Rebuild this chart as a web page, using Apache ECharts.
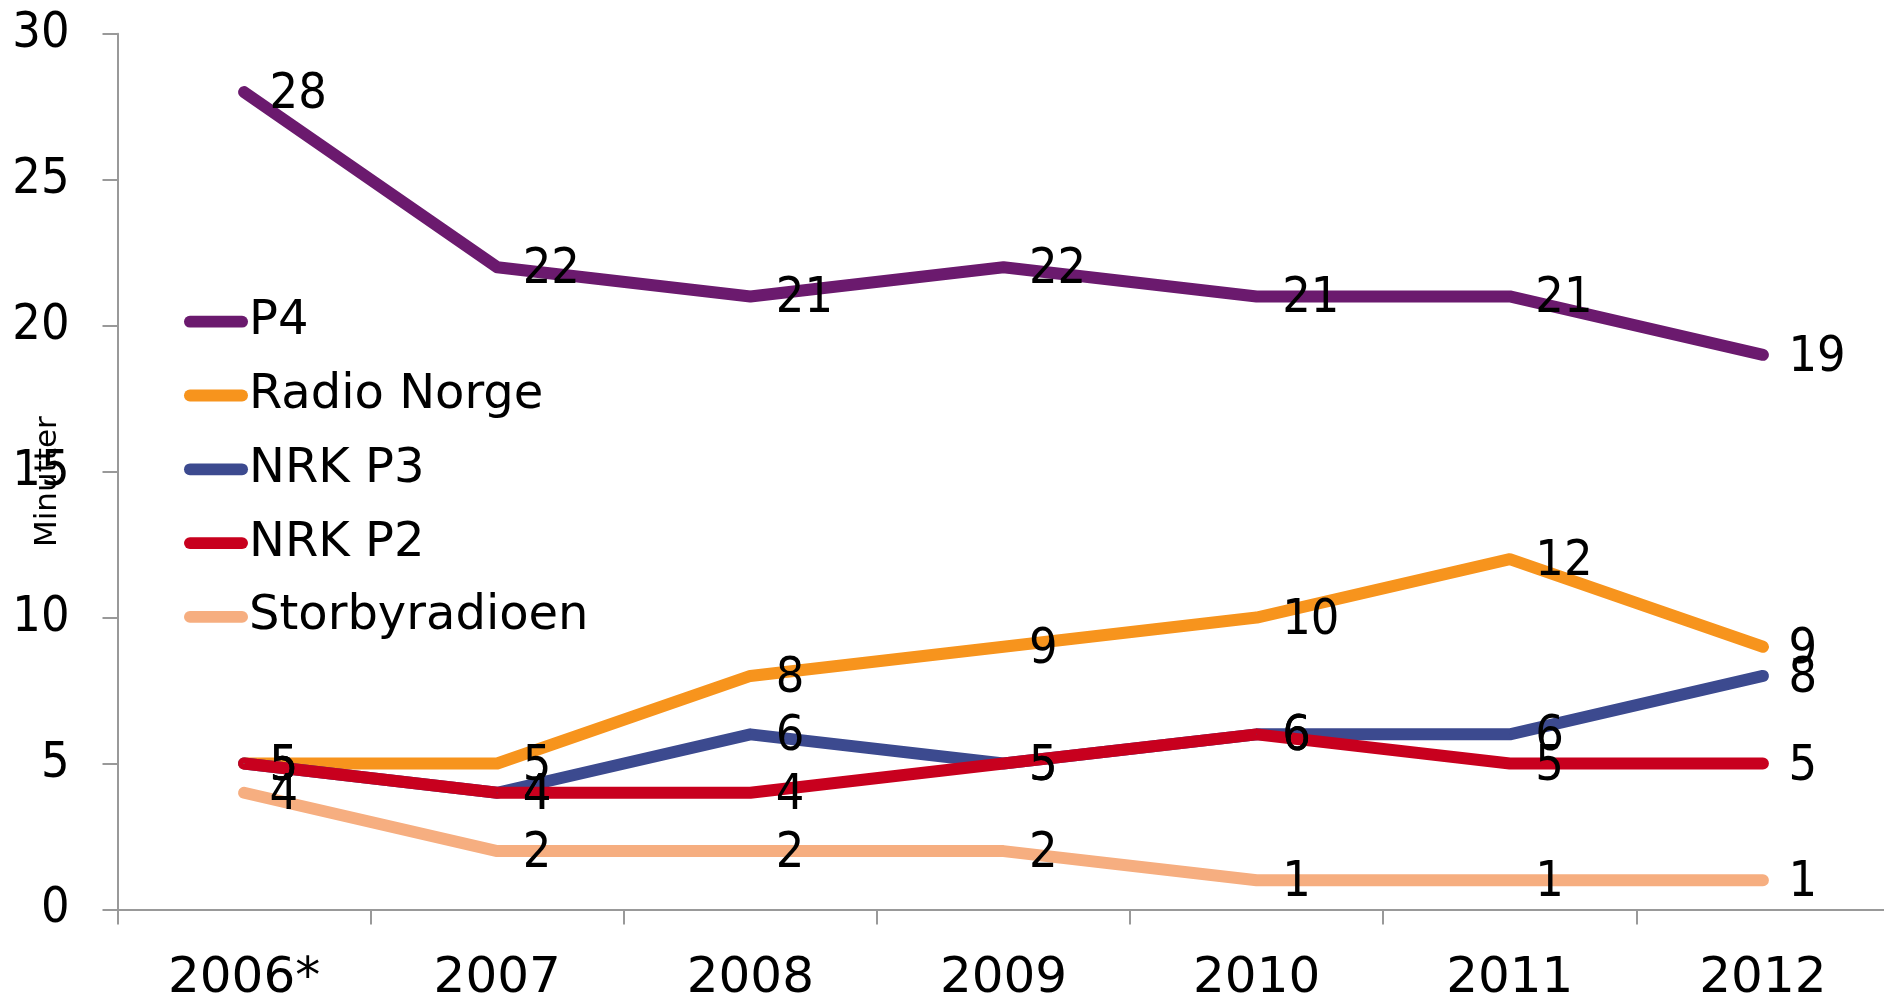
<!DOCTYPE html>
<html>
<head>
<meta charset="utf-8">
<script src="https://cdn.jsdelivr.net/npm/echarts@6/dist/echarts.min.js"></script>
<style>
html,body{margin:0;padding:0;background:#fff;}
#chart{width:1884px;height:996px;}
</style>
</head>
<body>
<div id="chart"></div>
<script>
const categories = ['2006*', '2007', '2008', '2009', '2010', '2011', '2012'];
const p4 = [28, 22, 21, 22, 21, 21, 19];
const radioNorge = [5, 5, 8, 9, 10, 12, 9];
const nrkP3 = [5, 4, 6, 5, 6, 6, 8];
const nrkP2 = [5, 4, 4, 5, 6, 5, 5];
const storbyradioen = [4, 2, 2, 2, 1, 1, 1];
const seriesNames = ['P4', 'Radio Norge', 'NRK P3', 'NRK P2', 'Storbyradioen'];
const seriesData = [p4, radioNorge, nrkP3, nrkP2, storbyradioen];
const colors = ['#6B1A6E', '#F7941D', '#3C4A8F', '#C8001E', '#F6AE80'];
const yTicks = [0, 5, 10, 15, 20, 25, 30];

const chart = echarts.init(document.getElementById('chart'), null, {renderer: 'canvas'});

const series = seriesNames.map((name, i) => ({
  name: name,
  type: 'line',
  data: seriesData[i],
  symbol: 'circle',
  symbolSize: 1,
  showSymbol: true,
  color: colors[i],
  itemStyle: {color: colors[i]},
  lineStyle: {width: 12, color: colors[i], cap: 'round', join: 'round'},
  label: {
    show: true,
    position: 'right',
    distance: 25,
    offset: [0, 3],
    color: '#000',
    fontFamily: 'DejaVu Sans Condensed',
    fontSize: 50
  },
  emphasis: {disabled: true},
  animation: false
}));

chart.setOption({
  backgroundColor: '#fff',
  animation: false,
  grid: {left: 117.5, top: 33.7, width: 1772, height: 875.8, containLabel: false, outerBoundsMode: 'none'},
  legend: {
    orient: 'vertical',
    left: 179,
    top: 290.7,
    data: seriesNames,
    icon: 'path://M6,0 H59 A6,6 0 0 1 59,12 H6 A6,6 0 0 1 6,0 Z',
    itemWidth: 64,
    itemHeight: 12,
    itemGap: 21.8,
    textStyle: {
      fontFamily: 'DejaVu Sans',
      fontSize: 48,
      lineHeight: 52,
      color: '#000',
      padding: [0, 0, 0, -4]
    },
    selectedMode: false
  },
  xAxis: {
    type: 'category',
    data: categories,
    boundaryGap: true,
    axisLine: {lineStyle: {color: '#999', width: 2}},
    axisTick: {show: true, length: 15, inside: false, lineStyle: {color: '#999', width: 2}},
    axisLabel: {
      color: '#000',
      fontFamily: 'DejaVu Sans',
      fontSize: 50,
      lineHeight: 50,
      margin: 45
    },
    splitLine: {show: false}
  },
  yAxis: {
    type: 'value',
    min: 0,
    max: 30,
    interval: 5,
    name: 'Minutter',
    nameLocation: 'middle',
    nameGap: 54,
    nameRotate: 90,
    nameMoveOverlap: false,
    nameTextStyle: {color: '#000', fontFamily: 'DejaVu Sans', fontSize: 31, padding: [0, 20, 0, 0]},
    axisLine: {show: true, lineStyle: {color: '#999', width: 2}},
    axisTick: {show: true, length: 15, inside: false, lineStyle: {color: '#999', width: 2}},
    axisLabel: {
      color: '#000',
      fontFamily: 'DejaVu Sans Condensed',
      fontSize: 50,
      margin: 48,
      formatter: function (v) { return yTicks.indexOf(v) >= 0 ? String(v) : ''; }
    },
    splitLine: {show: false}
  },
  series: series
});
</script>
</body>
</html>
